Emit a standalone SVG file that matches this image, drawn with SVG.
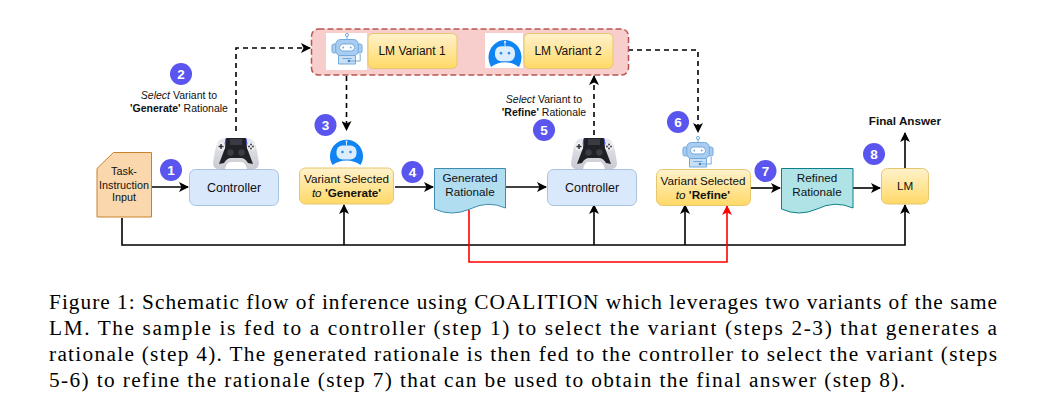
<svg xmlns="http://www.w3.org/2000/svg" width="1041" height="406" viewBox="0 0 1041 406">
<style>
text{font-family:"Liberation Sans",Arial,sans-serif;fill:#111;text-anchor:middle}
.n{font-size:12.500px}
.v{font-size:12px}
.l{font-size:11.700px}
.t{font-size:10.800px}
.s{font-size:10.500px}
.c{font-family:"Liberation Serif","Times New Roman",serif;font-size:21.300px;text-anchor:start;fill:#000}
.num{font-size:13.500px;font-weight:bold;fill:#fff}
.blue{fill:#dae8fc;stroke:#a9c2e4;stroke-width:1}
.yel{fill:url(#gy);stroke:#e6c66e;stroke-width:1}
.k{fill:none;stroke:#000;stroke-width:1.600}
.d{fill:none;stroke:#000;stroke-width:1.600;stroke-dasharray:5 4}
.r{fill:none;stroke:#f00;stroke-width:1.600}
.b{fill:#5a55ee}
</style>
<defs>
<linearGradient id="gy" x1="0" y1="0" x2="0" y2="1"><stop offset="0" stop-color="#fff2cc"/><stop offset="1" stop-color="#ffd966"/></linearGradient>
<linearGradient id="gp" x1="0" y1="0" x2="0" y2="1"><stop offset="0" stop-color="#e8e9ee"/><stop offset="1" stop-color="#c9cad2"/></linearGradient>
<marker id="a" viewBox="0 0 10 10" refX="9" refY="5" markerWidth="10" markerHeight="10" markerUnits="userSpaceOnUse" orient="auto"><path d="M0 0L10 5L0 10L2.500 5Z" fill="#000"/></marker>
<marker id="ar" viewBox="0 0 10 10" refX="9" refY="5" markerWidth="10" markerHeight="10" markerUnits="userSpaceOnUse" orient="auto"><path d="M0 0L10 5L0 10L2.500 5Z" fill="#f00"/></marker>
<symbol id="bluebot" viewBox="0 0 34 30" preserveAspectRatio="none" overflow="visible">
<path d="M3 30A16.500 16.500 0 1 1 31 30Q25 25.500 17 25.500Q9 25.500 3 30Z" fill="#0f84f2"/>
<circle cx="17" cy="6.500" r="1" fill="#d8ecff"/><rect x="16.500" y="6.500" width="1" height="4" fill="#d8ecff"/>
<rect x="7" y="10.500" width="20" height="14" rx="6" fill="#dcedfd"/>
<circle cx="13" cy="17" r="1.300" fill="#2e8fe8"/><circle cx="21" cy="17" r="1.300" fill="#2e8fe8"/>
</symbol>
<symbol id="linebot" viewBox="0 0 34 32" preserveAspectRatio="none" overflow="visible">
<circle cx="17" cy="2" r="1.600" fill="#fff" stroke="#6fa8dc"/><path d="M17 3.500V6.500" stroke="#6fa8dc"/>
<rect x="1" y="11" width="5" height="9" rx="2" fill="#a9cdf0" stroke="#6fa8dc"/><rect x="28" y="11" width="5" height="9" rx="2" fill="#a9cdf0" stroke="#6fa8dc"/>
<rect x="5" y="6.500" width="24" height="16" rx="5" fill="#a9cdf0" stroke="#6fa8dc"/>
<rect x="9" y="11" width="16" height="7" rx="3.500" fill="#fff" stroke="#6fa8dc"/>
<circle cx="13" cy="14.500" r="1" fill="#6fa8dc"/><circle cx="21" cy="14.500" r="1" fill="#6fa8dc"/>
<path d="M8 22.500V31H26V22.500Z" fill="#c9dff5" stroke="#6fa8dc"/><path d="M12 25.500H22M18 28H31V21" fill="none" stroke="#6fa8dc"/><circle cx="19" cy="28" r="1.300" fill="#3d85c6"/>
</symbol>
<symbol id="pad" viewBox="0 0 46 32" overflow="visible">
<path d="M9 1.500H37Q42 3 44 14L46 26Q46 32 40 32L34 32Q32 25 29 25H17Q14 25 12 32L6 32Q0 32 0 26L2 14Q4 3 9 1.500Z" fill="url(#gp)"/>
<path d="M13 1H33L34 11L40 27L35 26Q32 21 28 21H18Q14 21 11 26L6 27L12 11Z" fill="#202027"/>
<path d="M13 1.500L11.500 10M33 1.500L34.500 10" stroke="#3a49d8" stroke-width="1"/>
<path d="M17 2H29V8H17Z" fill="#3a3a42"/>
<circle cx="8" cy="9.500" r="4" fill="#f0f0f3"/><circle cx="38" cy="9.500" r="4" fill="#f0f0f3"/>
<path d="M5.500 9.500H10.500M8 7V12" stroke="#333" stroke-width="1.500"/>
<circle cx="38" cy="7.500" r="0.900" fill="#333"/><circle cx="38" cy="11.500" r="0.900" fill="#333"/><circle cx="36" cy="9.500" r="0.900" fill="#333"/><circle cx="40" cy="9.500" r="0.900" fill="#333"/>
<circle cx="17.500" cy="15.500" r="3.200" fill="#3c3c44"/><circle cx="28.500" cy="15.500" r="3.200" fill="#3c3c44"/>
</symbol>
</defs>
<rect width="1041" height="406" fill="#fff"/>
<g id="connectors">
<path class="k" d="M152 187H188" marker-end="url(#a)"/>
<path class="d" d="M236 131V48H310" marker-end="url(#a)"/>
<path class="d" d="M346.500 76V130" marker-end="url(#a)"/>
<path class="k" d="M395 187H433" marker-end="url(#a)"/>
<path class="k" d="M506 187H546" marker-end="url(#a)"/>
<path class="d" d="M594 135V76" marker-end="url(#a)"/>
<path class="d" d="M628 50H698V132" marker-end="url(#a)"/>
<path class="k" d="M751 188H780" marker-end="url(#a)"/>
<path class="k" d="M853 188H880" marker-end="url(#a)"/>
<path class="k" d="M905 168V133" marker-end="url(#a)"/>
<path class="k" d="M122 218V245H905V205" marker-end="url(#a)"/>
<path class="k" d="M344 245V205" marker-end="url(#a)"/>
<path class="k" d="M594 245V205" marker-end="url(#a)"/>
<path class="k" d="M685 245V205" marker-end="url(#a)"/>
<path class="r" d="M469 210V262H727V206" marker-end="url(#ar)"/>
</g>
<g id="variants-panel">
<rect x="311.500" y="29" width="317" height="46" rx="7" fill="#f8cecc" stroke="#b85450" stroke-width="1.500" stroke-dasharray="6 3"/>
</g>
<g id="lm-variant-1">
<rect x="326" y="33" width="41" height="37" fill="#fff"/>
<use href="#linebot" x="331" y="33" width="32" height="32"/>
<rect x="368" y="33.500" width="89" height="35" rx="5" class="yel"/>
<text class="v" x="412" y="55">LM Variant 1</text>
</g>
<g id="lm-variant-2">
<rect x="485" y="33" width="38" height="35" fill="#fff"/>
<use href="#bluebot" x="488" y="35" width="34" height="32"/>
<rect x="524" y="33.500" width="89" height="35" rx="5" class="yel"/>
<text class="v" x="568" y="55">LM Variant 2</text>
</g>
<g id="task-input">
<path d="M97 168.500L113.500 152.500H151.500V217H97Z" fill="#fad7ac" stroke="#c9822a" stroke-width="1"/>
<text class="t" x="124" y="175">Task-</text>
<text class="t" x="124" y="189">Instruction</text>
<text class="t" x="124" y="201">Input</text>
</g>
<g id="controller-1">
<use href="#pad" x="213" y="137" width="46" height="32"/>
<rect x="189.500" y="169.500" width="89" height="36" rx="6" class="blue"/>
<text class="n" x="234" y="192">Controller</text>
</g>
<g id="variant-generate">
<use href="#bluebot" x="329.500" y="135" width="34" height="30"/>
<rect x="299.500" y="168" width="94" height="36" rx="6" class="yel"/>
<text class="l" x="346.500" y="183">Variant Selected</text>
<text class="l" x="346.500" y="197"><tspan font-style="italic">to</tspan> <tspan font-weight="bold">'Generate'</tspan></text>
</g>
<g id="generated-rationale">
<path d="M434.500 168.500H505.500V208Q488 200 470 209Q452 217 434.500 209Z" fill="#b1ddf0" stroke="#3d8db0" stroke-width="1"/>
<text class="l" x="470" y="182">Generated</text>
<text class="l" x="470" y="196">Rationale</text>
</g>
<g id="controller-2">
<use href="#pad" x="571" y="137" width="46" height="32"/>
<rect x="547.500" y="169.500" width="89" height="36" rx="6" class="blue"/>
<text class="n" x="592" y="192">Controller</text>
</g>
<g id="variant-refine">
<use href="#linebot" x="682" y="136" width="32" height="32"/>
<rect x="656.500" y="169.500" width="94" height="36" rx="6" class="yel"/>
<text class="l" x="703" y="185">Variant Selected</text>
<text class="l" x="703" y="199"><tspan font-style="italic">to</tspan> <tspan font-weight="bold">'Refine'</tspan></text>
</g>
<g id="refined-rationale">
<path d="M781.500 168.500H853V208Q835 200 817 209Q799 217 781.500 209Z" fill="#b0e3e6" stroke="#0e8088" stroke-width="1"/>
<text class="l" x="817" y="182">Refined</text>
<text class="l" x="817" y="196">Rationale</text>
</g>
<g id="lm">
<rect x="881.500" y="168.500" width="47" height="35.500" rx="6" class="yel"/>
<text class="l" x="905" y="190">LM</text>
</g>
<g id="labels">
<text class="s" x="179" y="99"><tspan font-style="italic">Select</tspan> Variant to</text>
<text class="s" x="179" y="112"><tspan font-weight="bold">'Generate'</tspan> Rationale</text>
<text class="s" x="544" y="103"><tspan font-style="italic">Select</tspan> Variant to</text>
<text class="s" x="544" y="116"><tspan font-weight="bold">'Refine'</tspan> Rationale</text>
<text class="l" x="905" y="125" font-weight="bold">Final Answer</text>
</g>
<g id="badges">
<circle class="b" cx="171" cy="170" r="11"/><text class="num" x="171" y="175">1</text>
<circle class="b" cx="181" cy="74" r="11"/><text class="num" x="181" y="79">2</text>
<circle class="b" cx="325.500" cy="125" r="11"/><text class="num" x="325.500" y="130">3</text>
<circle class="b" cx="412.500" cy="172" r="11"/><text class="num" x="412.500" y="177">4</text>
<circle class="b" cx="544" cy="130" r="11"/><text class="num" x="544" y="135">5</text>
<circle class="b" cx="678" cy="122" r="11"/><text class="num" x="678" y="127">6</text>
<circle class="b" cx="765.500" cy="171" r="11"/><text class="num" x="765.500" y="176">7</text>
<circle class="b" cx="874" cy="154" r="11"/><text class="num" x="874" y="159">8</text>
</g>
<g id="caption">
<text class="c" x="49" y="309" textLength="948">Figure 1: Schematic flow of inference using COALITION which leverages two variants of the same</text>
<text class="c" x="49" y="335" textLength="948">LM. The sample is fed to a controller (step 1) to select the variant (steps 2-3) that generates a</text>
<text class="c" x="49" y="361" textLength="948">rationale (step 4). The generated rationale is then fed to the controller to select the variant (steps</text>
<text class="c" x="49" y="387" textLength="856">5-6) to refine the rationale (step 7) that can be used to obtain the final answer (step 8).</text>
</g>
</svg>
